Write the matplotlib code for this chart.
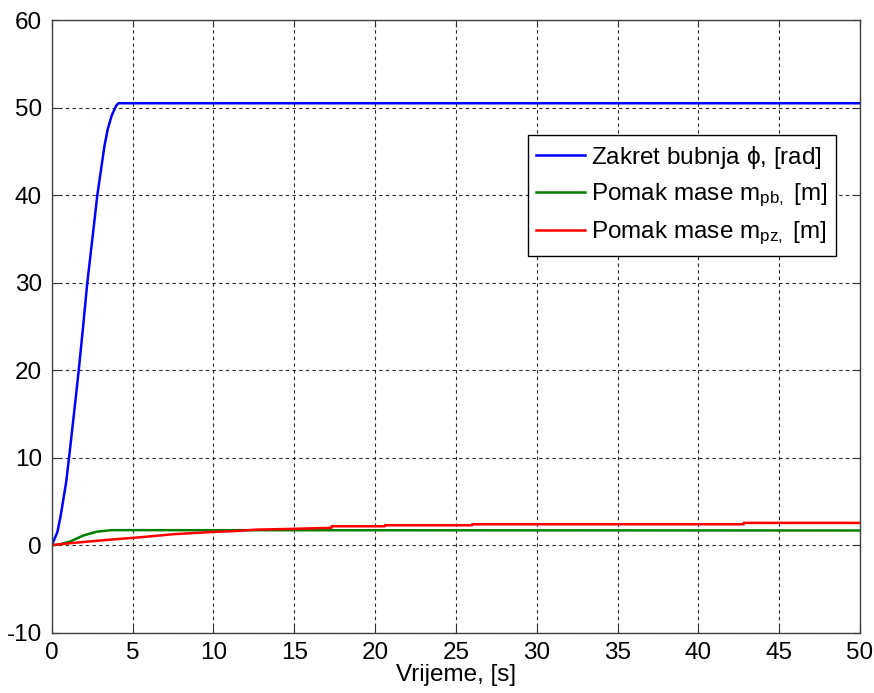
import numpy as np
import matplotlib
matplotlib.use("Agg")
import matplotlib.pyplot as plt

# font set-up: Arial-like text, mathtext in the same family
plt.rcParams['font.family'] = ['Liberation Sans', 'DejaVu Sans']
plt.rcParams['mathtext.fontset'] = 'custom'
plt.rcParams['mathtext.rm'] = 'Liberation Sans'
plt.rcParams['mathtext.it'] = 'Liberation Sans'
plt.rcParams['axes.unicode_minus'] = False

# data
# drum rotation phi [rad]
t_phi = [0, 0.35, 0.56, 0.9, 1.07, 1.38, 1.67, 1.92, 2.2, 2.51, 2.82, 3.26, 3.46, 3.71, 3.98, 4.12, 50]
phi = [0, 1.5, 3.45, 7.3, 10.0, 15.1, 20.0, 24.6, 30.0, 34.95, 40.0, 45.6, 47.5, 49.1, 50.2, 50.5, 50.5]

# displacement of mass m_pb [m]
t_pb = [0, 0.5, 1.12, 1.94, 2.8, 3.7, 50]
m_pb = [0, 0.1, 0.41, 1.1, 1.55, 1.72, 1.68]

# displacement of mass m_pz [m] (stepped)
t_pz = [0, 1.32, 3.39, 5.45, 7.5, 10.0, 11.2, 12.7, 14.7, 17.3, 17.3, 20.6, 20.6, 26.0, 26.0, 42.8, 42.8, 50]
m_pz = [0, 0.26, 0.6, 0.9, 1.25, 1.52, 1.6, 1.78, 1.86, 1.98, 2.16, 2.16, 2.28, 2.28, 2.39, 2.39, 2.55, 2.55]

x_ticks = np.arange(0, 51, 5)
y_ticks = np.arange(-10, 61, 10)

fs = 17.5

fig = plt.figure(figsize=(8.74, 6.93), dpi=100)
ax = fig.add_axes([0.0592, 0.087, 0.9248, 0.884])

ax.plot(t_phi, phi, color=(0, 0, 1), lw=1.8, label=r'Zakret bubnja $\phi$, [rad]')
ax.plot(t_pb, m_pb, color=(0, 0.5, 0), lw=1.8, label=r'Pomak mase m$_{\mathrm{pb},}$ [m]')
ax.plot(t_pz, m_pz, color=(1, 0, 0), lw=1.8, label=r'Pomak mase m$_{\mathrm{pz},}$ [m]')

ax.set_xlim(0, 50)
ax.set_ylim(-10, 60)
ax.set_xticks(x_ticks)
ax.set_yticks(y_ticks)
ax.tick_params(direction='in', top=True, right=True, length=5, width=0.8,
               labelsize=fs, pad=7, colors='#333333', labelcolor='black')
ax.grid(True, color='black', linestyle=(0, (3, 3)), linewidth=0.8, alpha=0.85)
for s in ax.spines.values():
    s.set_color('#404040')
    s.set_linewidth(1.0)

ax.set_xlabel('Vrijeme, [s]', fontsize=fs, labelpad=0)

leg = ax.legend(loc='upper left', bbox_to_anchor=(0.589, 0.812), fontsize=fs,
                fancybox=False, edgecolor='black', framealpha=1,
                handlelength=2.0, handletextpad=0.25, borderpad=0.35,
                labelspacing=0.45, borderaxespad=0)
leg.get_frame().set_linewidth(1.0)

fig.savefig('out.png', dpi=100)
